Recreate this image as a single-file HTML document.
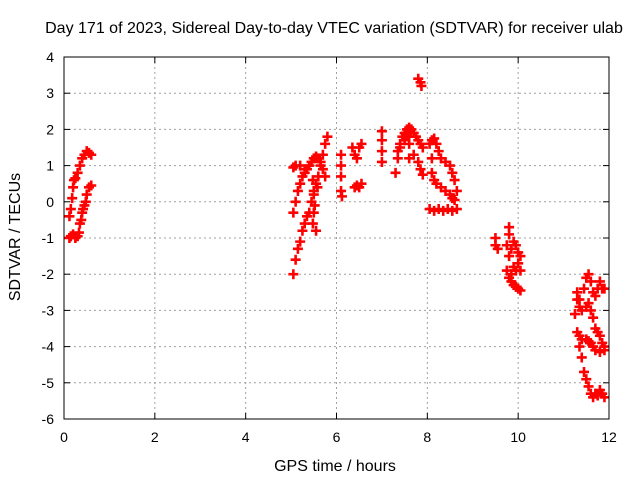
<!DOCTYPE html>
<html><head><meta charset="utf-8"><style>
body{margin:0;background:#fff;}
svg{display:block;font-family:"Liberation Sans",sans-serif;}
</style></head><body>
<svg id="chart" width="640" height="480">
<rect width="640" height="480" fill="#fff"/>
<text x="334" y="33" font-size="16" text-anchor="middle">Day 171 of 2023, Sidereal Day-to-day VTEC variation (SDTVAR) for receiver ulab</text>
<text x="335" y="471" font-size="16" text-anchor="middle">GPS time / hours</text>
<text x="0" y="0" font-size="16" text-anchor="middle" transform="translate(20,237) rotate(-90)">SDTVAR / TECUs</text>
<g id="grid"></g>
<g id="axes"></g>
<g id="marks"></g>
<rect x="64" y="57" width="545" height="362" fill="none" stroke="#000" stroke-width="1"/>
</svg>
<script>
const xTicks=[0,2,4,6,8,10,12];
const yTicks=[4,3,2,1,0,-1,-2,-3,-4,-5,-6];
const hours=[0.12,0.15,0.18,0.2,0.22,0.25,0.3,0.35,0.4,0.45,0.5,0.55,0.6,
0.12,0.15,0.2,0.25,0.3,0.35,0.4,0.45,0.5,0.55,0.6,0.33,0.38,0.42,0.48,
5.05,5.1,5.15,5.2,5.25,5.3,5.35,5.4,5.45,5.5,5.55,5.6,5.65,5.7,5.75,5.8,
5.05,5.1,5.15,5.2,5.25,5.3,5.35,5.4,5.45,5.5,5.55,5.6,5.65,5.7,5.75,
5.05,5.1,5.2,5.3,5.48,5.5,5.52,5.5,5.48,5.55,5.58,
6.1,6.1,6.1,6.1,6.12,6.35,6.4,6.45,6.5,6.55,6.4,6.45,6.5,6.55,
7.0,7.0,7.0,7.0,
7.3,7.35,7.4,7.45,7.5,7.55,7.6,7.65,7.7,7.75,7.8,7.85,7.9,
7.35,7.4,7.5,7.6,7.7,7.8,7.85,7.9,7.6,7.6,7.55,7.8,7.85,7.87,
8.05,8.1,8.15,8.2,8.25,8.3,8.4,8.5,8.55,8.6,8.65,
8.1,8.1,8.15,8.2,8.3,8.4,8.5,8.55,8.6,
8.05,8.15,8.25,8.35,8.45,8.55,8.65,
9.5,9.5,9.55,
9.8,9.8,9.75,9.8,9.85,9.9,9.95,10.0,10.05,10.0,9.9,9.85,9.8,9.85,9.9,9.95,10.0,10.05,9.75,9.95,10.05,
11.35,11.45,11.5,11.55,11.6,11.65,11.7,11.75,11.8,11.85,11.9,
11.3,11.3,11.35,11.4,11.5,11.55,11.6,11.65,11.7,11.75,11.8,11.85,11.9,
11.25,11.3,11.35,11.4,11.5,11.55,11.6,11.65,11.7,11.8,11.9,
11.35,11.4,11.45,11.5,11.55,11.6,11.65,11.7,11.75,11.8,11.85,11.9];
const sdtvar=[-0.4,-0.2,0.1,0.4,0.6,0.65,0.8,1.0,1.2,1.3,1.4,1.35,1.3,
-1.0,-0.95,-0.9,-1.0,-0.95,-0.6,-0.3,-0.1,0.2,0.4,0.45,-0.85,-0.5,-0.2,0.0,
-2.0,-1.6,-1.3,-1.1,-0.8,-0.6,-0.4,-0.3,0.0,0.3,0.5,0.7,1.0,1.3,1.6,1.8,
-0.3,0.0,0.3,0.5,0.7,0.8,0.9,1.0,1.1,1.2,1.25,1.2,1.1,0.9,0.7,
0.95,1.0,1.0,0.9,0.6,0.2,-0.1,-0.3,-0.6,-0.8,0.4,
1.3,1.0,0.7,0.3,0.15,1.5,1.3,1.2,1.5,1.6,0.4,0.45,0.4,0.5,
1.95,1.7,1.4,1.1,
0.8,1.2,1.6,1.8,1.9,2.0,2.05,2.0,1.9,1.8,1.7,1.6,1.5,
1.4,1.5,1.7,1.6,1.3,1.1,0.9,0.75,1.2,1.8,1.85,3.4,3.3,3.2,
1.6,1.7,1.75,1.6,1.4,1.2,1.1,1.0,0.8,0.6,0.3,
1.2,0.8,0.6,0.5,0.4,0.3,0.2,0.1,0.05,
-0.2,-0.25,-0.2,-0.25,-0.2,-0.25,-0.2,
-1.0,-1.2,-1.3,
-0.7,-0.9,-1.2,-1.5,-1.3,-1.1,-1.2,-1.4,-1.5,-1.7,-1.8,-2.0,-2.1,-2.2,-2.3,-2.35,-2.4,-2.45,-1.9,-1.9,-1.9,
-2.7,-2.4,-2.1,-2.0,-2.2,-2.5,-2.6,-2.4,-2.2,-2.4,-2.4,
-2.5,-2.7,-2.9,-3.0,-2.9,-2.8,-3.0,-3.2,-3.5,-3.6,-3.7,-3.9,-4.0,
-3.1,-3.6,-3.7,-3.8,-3.8,-3.85,-3.9,-4.0,-4.1,-4.15,-4.1,
-4.0,-4.3,-4.7,-4.9,-5.1,-5.3,-5.4,-5.3,-5.35,-5.2,-5.3,-5.4];
const L=64,R=609,T=57,B=419;
const xS=h=>L+(h-0)/(12-0)*(R-L);
const yS=v=>B-(v-(-6))/(4-(-6))*(B-T);
const NS='http://www.w3.org/2000/svg';
function mk(tag,attrs,parent){const e=document.createElementNS(NS,tag);for(const k in attrs)e.setAttribute(k,attrs[k]);parent.appendChild(e);return e;}
const grid=document.getElementById('grid'),axes=document.getElementById('axes'),marks=document.getElementById('marks');
xTicks.forEach(t=>{const x=xS(t);
 if(t>0&&t<12){const g=mk('line',{x1:x,x2:x,y1:T,y2:B,stroke:'#a0a0a0','stroke-dasharray':'2,3'},grid);
 
 }
 mk('line',{x1:x,x2:x,y1:B,y2:B-6,stroke:'#000'},axes);
 mk('line',{x1:x,x2:x,y1:T,y2:T+6,stroke:'#000'},axes);
 const tx=mk('text',{x:x,y:B+23,'font-size':'14','text-anchor':'middle'},axes);tx.textContent=t;
 
 
});
yTicks.forEach(t=>{const y=yS(t);
 if(t>-6&&t<4){const g=mk('line',{x1:L,x2:R,y1:y,y2:y,stroke:'#a0a0a0','stroke-dasharray':'2,3'},grid);
 
 }
 mk('line',{x1:L,x2:L+6,y1:y,y2:y,stroke:'#000'},axes);
 mk('line',{x1:R,x2:R-6,y1:y,y2:y,stroke:'#000'},axes);
 const tx=mk('text',{x:L-10,y:y+5,'font-size':'14','text-anchor':'end'},axes);tx.textContent=t;
 
 
});
hours.forEach((h,i)=>{const x=xS(h),y=yS(sdtvar[i]);
 const p=mk('path',{d:`M${x-5},${y}H${x+5}M${x},${y-5}V${y+5}`,stroke:'#ff0000','stroke-width':'2.6',fill:'none'},marks);
 
 
});
</script>
</body></html>
